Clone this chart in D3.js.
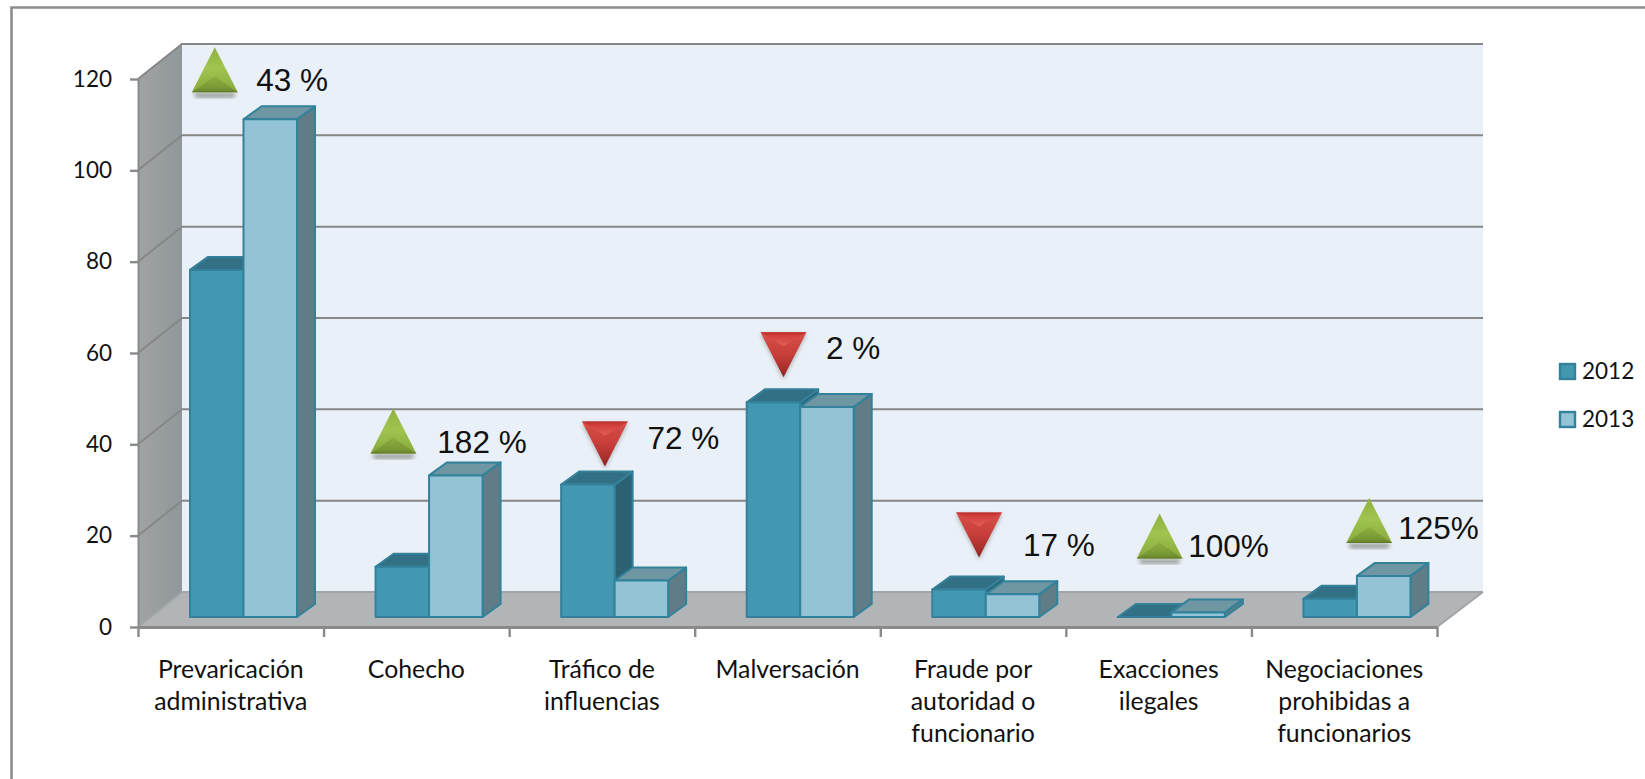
<!DOCTYPE html>
<html>
<head>
<meta charset="utf-8">
<script src="https://cdn.jsdelivr.net/npm/d3@7"></script>
<style>
  html, body { margin: 0; padding: 0; background: #fff; overflow: hidden; }
  svg { display: block; }
  .lbl { font-family: Lato, "Open Sans", sans-serif; font-size: 22.5px; fill: #111; }
  .cat { font-family: Lato, "Open Sans", sans-serif; font-size: 24.8px; fill: #111; }
  .change { font-family: "Liberation Sans", Arial, sans-serif; font-size: 31.5px; fill: #111; }
  .axis path, .axis line { stroke: #8a8a8a; }
</style>
</head>
<body>
<div id="chart"></div>
<script>
const categories = [
  ['Prevaricación', 'administrativa'],
  ['Cohecho'],
  ['Tráfico de', 'influencias'],
  ['Malversación'],
  ['Fraude por', 'autoridad o', 'funcionario'],
  ['Exacciones', 'ilegales'],
  ['Negociaciones', 'prohibidas a', 'funcionarios'],
]
const years = ['2012', '2013']
const values2012 = [76, 11, 29, 47, 6, 0, 4]
const values2013 = [109, 31, 8, 46, 5, 1, 9]
const yTicks = [0, 20, 40, 60, 80, 100, 120]
const changeLabels = ['43 %', '182 %', '72 %', '2 %', '17 %', '100%', '125%']
const changeUp = [true, true, false, false, false, true, true]

// the arrows were placed by hand in the original, so nudge them from the bars
const markerDx = [-16, -23, 3, -4, 6, 1, 25]
const markerDy = [-37, -32, -73, -80, -87, -64, -43]
const textDx = [41.5, 44, 42.5, 42.5, 44, 28.5, 29]
const textDy = [-1, 0, 27, 27, 43, -1, -4]

const width = 1645
const height = 779
const plot = {left: 138, right: 1437, bottom: 627, top: 79}
const depth = {x: 44, y: 35}
const bar = {inset: 52, width: 53.5, liftY: 10, dx: 18, dy: 13}

const y = d3.scaleLinear().domain([0, 120]).range([plot.bottom, plot.top])
const xEdge = d3.scaleLinear().domain([0, categories.length]).range([plot.left, plot.right])
const xBand = d3.scaleBand().domain(d3.range(categories.length)).range([plot.left, plot.right])
const xYear = d3.scaleBand().domain(years).range([bar.inset, bar.inset + bar.width * 2])

const svg = d3.select('#chart').append('svg')
  .attr('width', width)
  .attr('height', height)

const defs = svg.append('defs')

const wallGrad = defs.append('linearGradient').attr('id', 'sideWall')
wallGrad.append('stop').attr('offset', '0').attr('stop-color', '#a0a3a4')
wallGrad.append('stop').attr('offset', '1').attr('stop-color', '#90979a')

function addGrad(id, stops) {
  const g = defs.append('linearGradient').attr('id', id)
    .attr('x1', 0).attr('y1', 0).attr('x2', 0).attr('y2', 1)
  stops.forEach(s => g.append('stop').attr('offset', s[0]).attr('stop-color', s[1]))
}
addGrad('upFill', [[0, '#8fb040'], [0.45, '#a0c44f'], [0.75, '#93b745'], [1, '#88a83d']])
addGrad('upBase', [[0, '#8dad40'], [0.7, '#7b9a36'], [0.88, '#708c30'], [1, '#5d7628']])
addGrad('downFill', [[0, '#d9504a'], [0.5, '#c63d39'], [0.85, '#a42d2a'], [1, '#7f1f1c']])
addGrad('downTop', [[0, '#b8302c'], [0.25, '#d2403b'], [1, '#e35f58']])

const blur = defs.append('filter').attr('id', 'soft')
  .attr('x', '-30%').attr('y', '-30%').attr('width', '160%').attr('height', '160%')
blur.append('feGaussianBlur').attr('stdDeviation', 2.2)

const line = d3.line()

// outer frame, runs off the right and bottom of the page
svg.append('path')
  .attr('d', line([[11.5, height + 5], [11.5, 7.5], [width + 5, 7.5]]))
  .attr('fill', 'none')
  .attr('stroke', '#8c8c8c')
  .attr('stroke-width', 2.6)

const wallLeft = plot.left + depth.x
const wallRight = plot.right + 46
const back = v => y(v) - depth.y

// back wall
svg.append('path')
  .attr('d', line([[wallLeft, back(120)], [wallRight, back(120)], [wallRight, back(0)], [wallLeft, back(0)]]))
  .attr('fill', '#e9f0f7')

// left wall
svg.append('path')
  .attr('d', line([[plot.left, y(120)], [wallLeft, back(120)], [wallLeft, back(0)], [plot.left, y(0)]]))
  .attr('fill', 'url(#sideWall)')

// floor
svg.append('path')
  .attr('d', line([[plot.left, y(0)], [plot.right, y(0)], [wallRight, back(0)], [wallLeft, back(0)]]))
  .attr('fill', '#b1b5b8')

// grid lines run across both walls
svg.append('g').selectAll('path')
  .data(yTicks)
  .enter().append('path')
  .attr('d', d => line([[plot.left, y(d)], [wallLeft, back(d)], [wallRight, back(d)]]))
  .attr('fill', 'none')
  .attr('stroke', d => d === 0 ? '#a2a5a7' : '#868686')
  .attr('stroke-width', 2)

svg.append('path')
  .attr('d', line([[plot.right, y(0)], [wallRight, back(0)]]))
  .attr('fill', 'none')
  .attr('stroke', '#a2a5a7')
  .attr('stroke-width', 2)

// axes
const yAxis = svg.append('g')
  .attr('class', 'axis')
  .attr('transform', 'translate(' + plot.left + ',0)')
  .call(d3.axisLeft(y).tickValues(yTicks).tickSize(8).tickPadding(18).tickSizeOuter(0))
yAxis.selectAll('line').attr('stroke-width', 2.4)
yAxis.select('.domain').attr('stroke-width', 2)
yAxis.selectAll('text').attr('class', 'lbl')
yAxis.attr('font-family', null).attr('font-size', null)

const xAxis = svg.append('g')
  .attr('class', 'axis')
  .attr('transform', 'translate(0,' + plot.bottom + ')')
  .call(d3.axisBottom(xEdge).ticks(categories.length).tickSize(10).tickFormat('').tickSizeOuter(0))
xAxis.selectAll('line').attr('stroke-width', 2.4)
xAxis.select('.domain').attr('stroke-width', 3)

// category labels
svg.append('g').selectAll('text')
  .data(categories)
  .enter().append('text')
  .attr('class', 'cat')
  .attr('text-anchor', 'middle')
  .attr('y', plot.bottom + 51)
  .each(function(d, i) {
    d3.select(this).selectAll('tspan')
      .data(d)
      .enter().append('tspan')
      .attr('x', xBand(i) + xBand.bandwidth() / 2)
      .attr('dy', (_, k) => k ? 32 : 0)
      .text(t => t)
  })

// 3d bars
const colors = {
  '2012': {front: '#4198b0', top: '#327185', side: '#2c6172', stroke: '#35809a'},
  '2013': {front: '#94c3d6', top: '#6e96a3', side: '#5f7c87', stroke: '#31829a'},
}

function drawBar(g, year, i, value) {
  const c = colors[year]
  const x0 = xBand(i) + xYear(year)
  const x1 = x0 + bar.width
  const yTop = y(value) - bar.liftY
  const yBot = y(0) - bar.liftY
  const face = (pts, fill) => g.append('path')
    .attr('d', line(pts) + 'Z')
    .attr('fill', fill)
    .attr('stroke', c.stroke)
    .attr('stroke-width', 2)
    .attr('stroke-linejoin', 'round')
  face([[x1, yTop], [x1 + bar.dx, yTop - bar.dy], [x1 + bar.dx, yBot - bar.dy], [x1, yBot]], c.side)
  face([[x0, yTop], [x0 + bar.dx, yTop - bar.dy], [x1 + bar.dx, yTop - bar.dy], [x1, yTop]], c.top)
  face([[x0, yTop], [x1, yTop], [x1, yBot], [x0, yBot]], c.front)
}

const bars = svg.append('g')
categories.forEach((_, i) => {
  drawBar(bars, '2012', i, values2012[i])
  drawBar(bars, '2013', i, values2013[i])
})

// change arrows
function drawMarker(g, cx, edge, up) {
  const half = 23
  const len = up ? -45 : 45
  const tri = [[cx - half, edge], [cx + half, edge], [cx, edge + len]]
  if (up) {
    g.append('path')
      .attr('d', line([[cx - half + 2, edge + 1], [cx + half - 2, edge + 1], [cx + half - 4, edge + 5], [cx - half + 4, edge + 5]]) + 'Z')
      .attr('fill', '#5b5f52')
      .attr('opacity', 0.7)
      .attr('filter', 'url(#soft)')
  } else {
    g.append('path')
      .attr('d', line(tri.map(p => [p[0], p[1] + 2])) + 'Z')
      .attr('fill', '#77706c')
      .attr('opacity', 0.5)
      .attr('filter', 'url(#soft)')
  }
  g.append('path')
    .attr('d', line(tri) + 'Z')
    .attr('fill', up ? 'url(#upFill)' : 'url(#downFill)')
  // bevel along the wide edge
  const bevel = [[cx - half, edge], [cx + half, edge], [cx, edge + (up ? -16 : 14)]]
  g.append('path')
    .attr('d', line(bevel) + 'Z')
    .attr('fill', up ? 'url(#upBase)' : 'url(#downTop)')
}

const markers = svg.append('g')
changeLabels.forEach((label, i) => {
  const maxVal = Math.max(values2012[i], values2013[i])
  const cx = xBand(i) + xBand.bandwidth() / 2 + markerDx[i]
  const edge = y(maxVal) + markerDy[i]
  drawMarker(markers, cx, edge, changeUp[i])
  markers.append('text')
    .attr('class', 'change')
    .attr('x', cx + textDx[i])
    .attr('y', edge + textDy[i])
    .text(label)
})

// legend
const legend = svg.append('g').selectAll('g')
  .data(years)
  .enter().append('g')
  .attr('transform', (d, i) => 'translate(1560,' + (364 + i * 48) + ')')
legend.append('rect')
  .attr('width', 15)
  .attr('height', 15)
  .attr('fill', d => colors[d].front)
  .attr('stroke', d => colors[d].stroke)
  .attr('stroke-width', 2.4)
legend.append('text')
  .attr('class', 'lbl')
  .attr('x', 22)
  .attr('y', 14.5)
  .text(d => d)
</script>
</body>
</html>
